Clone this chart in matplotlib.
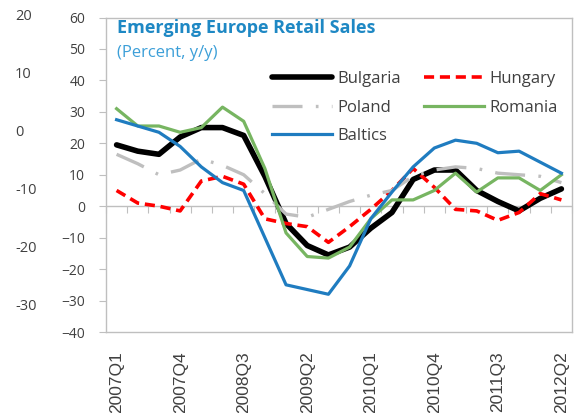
import numpy as np
import matplotlib.pyplot as plt

# quarterly retail sales, percent y/y
quarters = ["2007Q1", "2007Q2", "2007Q3", "2007Q4", "2008Q1", "2008Q2",
            "2008Q3", "2008Q4", "2009Q1", "2009Q2", "2009Q3", "2009Q4",
            "2010Q1", "2010Q2", "2010Q3", "2010Q4", "2011Q1", "2011Q2",
            "2011Q3", "2011Q4", "2012Q1", "2012Q2"]
bulgaria = [19.5, 17.5, 16.5, 22, 25, 25, 22.5, 9.5, -5.5, -12.5, -15.5, -13,
            -7, -2, 8.5, 11.5, 11.5, 5, 1.5, -1.5, 2.5, 5.5]
hungary = [5, 1, 0, -1.5, 8, 9.5, 7, -4, -5.5, -6.5, -11.5, -6.5,
           -1, 5, 12, 6, -1, -1.5, -4.5, -2, 4, 2]
poland = [16.5, 13.5, 10, 11.5, 15, 13, 10, 4, -2.5, -3.5, -1, 1.5,
          3.5, 5, 9.5, 11.5, 12.5, 12, 10.5, 10, 9.5, 7.5]
romania = [31, 25.5, 25.5, 23.5, 25, 31.5, 27, 12, -8.5, -16, -16.5, -13,
           -4, 2, 2, 5, 10.5, 4.5, 9, 9, 5, 10]
baltics = [27.5, 25.5, 23.5, 19, 12.5, 7.5, 5, -10, -25, -26.5, -28, -19,
           -4, 4.5, 12.5, 18.5, 21, 20, 17, 17.5, 14, 10.5]

y_ticks = [-40, -30, -20, -10, 0, 10, 20, 30, 40, 50, 60]
ghost_ticks = [20, 10, 0, -10, -20, -30]

W, H = 576, 413
grey = "#BFBFBF"
txt = "#404040"
font = ["Open Sans", "DejaVu Sans"]

fig = plt.figure(figsize=(W / 100, H / 100), dpi=100)
ax = fig.add_axes([106 / W, 81 / H, 466 / W, 314.5 / H])
x = np.arange(len(quarters))

ax.plot(x, bulgaria, color="black", lw=4, solid_capstyle="round", label="Bulgaria")
ax.plot(x, hungary, color="#FF0000", lw=2.6, ls=(0, (2.8, 1.6)), label="Hungary")
ax.plot(x, poland, color="#BFBFBF", lw=2.4, ls=(0, (9, 4, 0.8, 4)), label="Poland")
ax.plot(x, romania, color="#77B561", lw=2.3, label="Romania")
ax.plot(x, baltics, color="#1F7CC0", lw=2.3, label="Baltics")

ax.set_xlim(-0.5, len(quarters) - 0.5)
ax.set_ylim(-40, 60)

for s in ax.spines.values():
    s.set_color(grey)
    s.set_linewidth(1)
ax.axhline(0, color=grey, lw=1, zorder=0)

# tick marks on the zero line between categories
sec = ax.secondary_xaxis(0.4)
sec.set_xticks(np.arange(-0.5, len(quarters), 1))
sec.tick_params(length=5, color=grey, labelbottom=False)
sec.spines["bottom"].set_visible(False)

ax.set_xticks(x[::3])
ax.set_xticklabels(quarters[::3], rotation=90, family="Liberation Sans",
                   fontsize=12.5, color=txt)
ax.tick_params(axis="x", length=0, pad=14)

ax.set_yticks(y_ticks)
ax.tick_params(axis="y", length=5, color=grey, pad=10, labelsize=10,
               labelcolor=txt)
for lab in ax.get_yticklabels():
    lab.set_family(font)

fig.text(117 / W, 1 - 28 / H, "Emerging Europe Retail Sales", family=font,
         fontsize=13, fontweight="bold", color="#1E88C4", va="center")
fig.text(117 / W, 1 - 53 / H, "(Percent, y/y)", family=font,
         fontsize=12, color="#3C9FD8", va="center")

h, l = ax.get_legend_handles_labels()
order = [0, 2, 4, 1, 3]
ax.legend([h[i] for i in order], [l[i] for i in order], ncol=2,
          loc="upper left", bbox_to_anchor=(264 / W, 1 - 63 / H),
          bbox_transform=fig.transFigure, frameon=False, borderpad=0,
          handlelength=3.6, handletextpad=0.3, columnspacing=1.4,
          labelspacing=0.75, prop={"family": font, "size": 12},
          labelcolor=txt)

# stray axis labels on the far left
ghost = fig.add_axes([15 / W, (H - 363.8) / H, 0.05, (363.8 - 17) / H])
ghost.set_ylim(-40, 20)
ghost.axis("off")
for v in ghost_ticks:
    ghost.text(0, v, str(v), ha="left", va="center", family=font,
               fontsize=10.5, color=txt)

fig.savefig("out.png", dpi=100)
